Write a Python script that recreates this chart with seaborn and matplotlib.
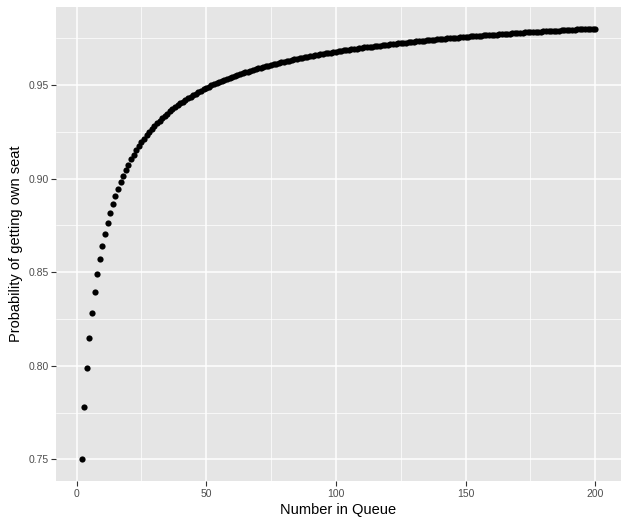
import pandas as pd
import matplotlib
matplotlib.use('Agg')
import matplotlib.pyplot as plt
from matplotlib.ticker import MultipleLocator
import seaborn as sns


# values (number in queue 2..200)
queue = list(range(2, 201))
prob = [
    0.7500, 0.7778, 0.7987, 0.8151, 0.8284, 0.8395, 0.8489, 0.8570, 0.8639, 0.8705,
    0.8763, 0.8816, 0.8863, 0.8907, 0.8946, 0.8982, 0.9016, 0.9047, 0.9075, 0.9102,
    0.9127, 0.9150, 0.9172, 0.9193, 0.9212, 0.9230, 0.9248, 0.9264, 0.9280, 0.9295,
    0.9309, 0.9322, 0.9335, 0.9347, 0.9359, 0.9370, 0.9381, 0.9392, 0.9401, 0.9411,
    0.9420, 0.9429, 0.9438, 0.9446, 0.9454, 0.9462, 0.9469, 0.9476, 0.9483, 0.9490,
    0.9497, 0.9503, 0.9509, 0.9515, 0.9521, 0.9527, 0.9532, 0.9537, 0.9543, 0.9548,
    0.9553, 0.9557, 0.9562, 0.9567, 0.9571, 0.9575, 0.9580, 0.9584, 0.9588, 0.9592,
    0.9596, 0.9599, 0.9603, 0.9607, 0.9610, 0.9614, 0.9617, 0.9620, 0.9624, 0.9627,
    0.9630, 0.9633, 0.9636, 0.9639, 0.9642, 0.9645, 0.9647, 0.9650, 0.9653, 0.9655,
    0.9658, 0.9661, 0.9663, 0.9666, 0.9668, 0.9670, 0.9673, 0.9675, 0.9677, 0.9679,
    0.9682, 0.9684, 0.9686, 0.9688, 0.9690, 0.9692, 0.9694, 0.9696, 0.9698, 0.9700,
    0.9701, 0.9703, 0.9705, 0.9707, 0.9709, 0.9710, 0.9712, 0.9714, 0.9715, 0.9717,
    0.9719, 0.9720, 0.9722, 0.9723, 0.9725, 0.9726, 0.9728, 0.9729, 0.9731, 0.9732,
    0.9734, 0.9735, 0.9736, 0.9738, 0.9739, 0.9740, 0.9742, 0.9743, 0.9744, 0.9746,
    0.9747, 0.9748, 0.9749, 0.9751, 0.9752, 0.9753, 0.9754, 0.9755, 0.9756, 0.9758,
    0.9759, 0.9760, 0.9761, 0.9762, 0.9763, 0.9764, 0.9765, 0.9766, 0.9767, 0.9768,
    0.9769, 0.9770, 0.9771, 0.9772, 0.9773, 0.9774, 0.9775, 0.9776, 0.9777, 0.9778,
    0.9779, 0.9780, 0.9780, 0.9781, 0.9782, 0.9783, 0.9784, 0.9785, 0.9786, 0.9786,
    0.9787, 0.9788, 0.9789, 0.9790, 0.9790, 0.9791, 0.9792, 0.9793, 0.9794, 0.9794,
    0.9795, 0.9796, 0.9797, 0.9797, 0.9798, 0.9799, 0.9799, 0.9800, 0.9801,
]
x_ticks = [0, 50, 100, 150, 200]
y_ticks = [0.75, 0.80, 0.85, 0.90, 0.95]

df = pd.DataFrame({'queue': queue, 'prob': prob})

sns.set_theme(style='darkgrid', rc={
    'axes.facecolor': '#E5E5E5',
    'grid.color': 'white',
    'axes.edgecolor': '#E5E5E5',
})
plt.rcParams['font.family'] = ['Liberation Sans', 'DejaVu Sans']

fig = plt.figure(figsize=(6.26, 5.23), dpi=100)
ax = fig.add_axes([0.0895, 0.0803, 0.9025, 0.9063])

sns.scatterplot(x='queue', y='prob', data=df, ax=ax, s=20, color='black',
                linewidth=0, zorder=3)

# ggplot-like limits (5% expansion)
xr = max(queue) - min(queue)
yr = max(prob) - min(prob)
ax.set_xlim(min(queue) - 0.05 * xr, max(queue) + 0.05 * xr)
ax.set_ylim(min(prob) - 0.05 * yr, max(prob) + 0.05 * yr)

ax.set_xticks(x_ticks)
ax.set_yticks(y_ticks)
ax.set_yticklabels([f'{v:.2f}' for v in y_ticks])
ax.xaxis.set_minor_locator(MultipleLocator(25))
ax.yaxis.set_minor_locator(MultipleLocator(0.025))
ax.grid(which='major', color='white', linewidth=1.1)
ax.grid(which='minor', color='white', linewidth=0.5)
ax.tick_params(which='major', length=3.5, width=0.8, color='#333333',
               labelsize=7.5, labelcolor='#4D4D4D', pad=2, bottom=True, left=True)
ax.tick_params(which='minor', length=0)
for s in ax.spines.values():
    s.set_visible(False)

ax.set_xlabel('Number in Queue', fontsize=10.5, color='black', labelpad=3)
ax.set_ylabel('Probability of getting own seat', fontsize=10.5, color='black', labelpad=4)

fig.savefig('out.png', dpi=100)
